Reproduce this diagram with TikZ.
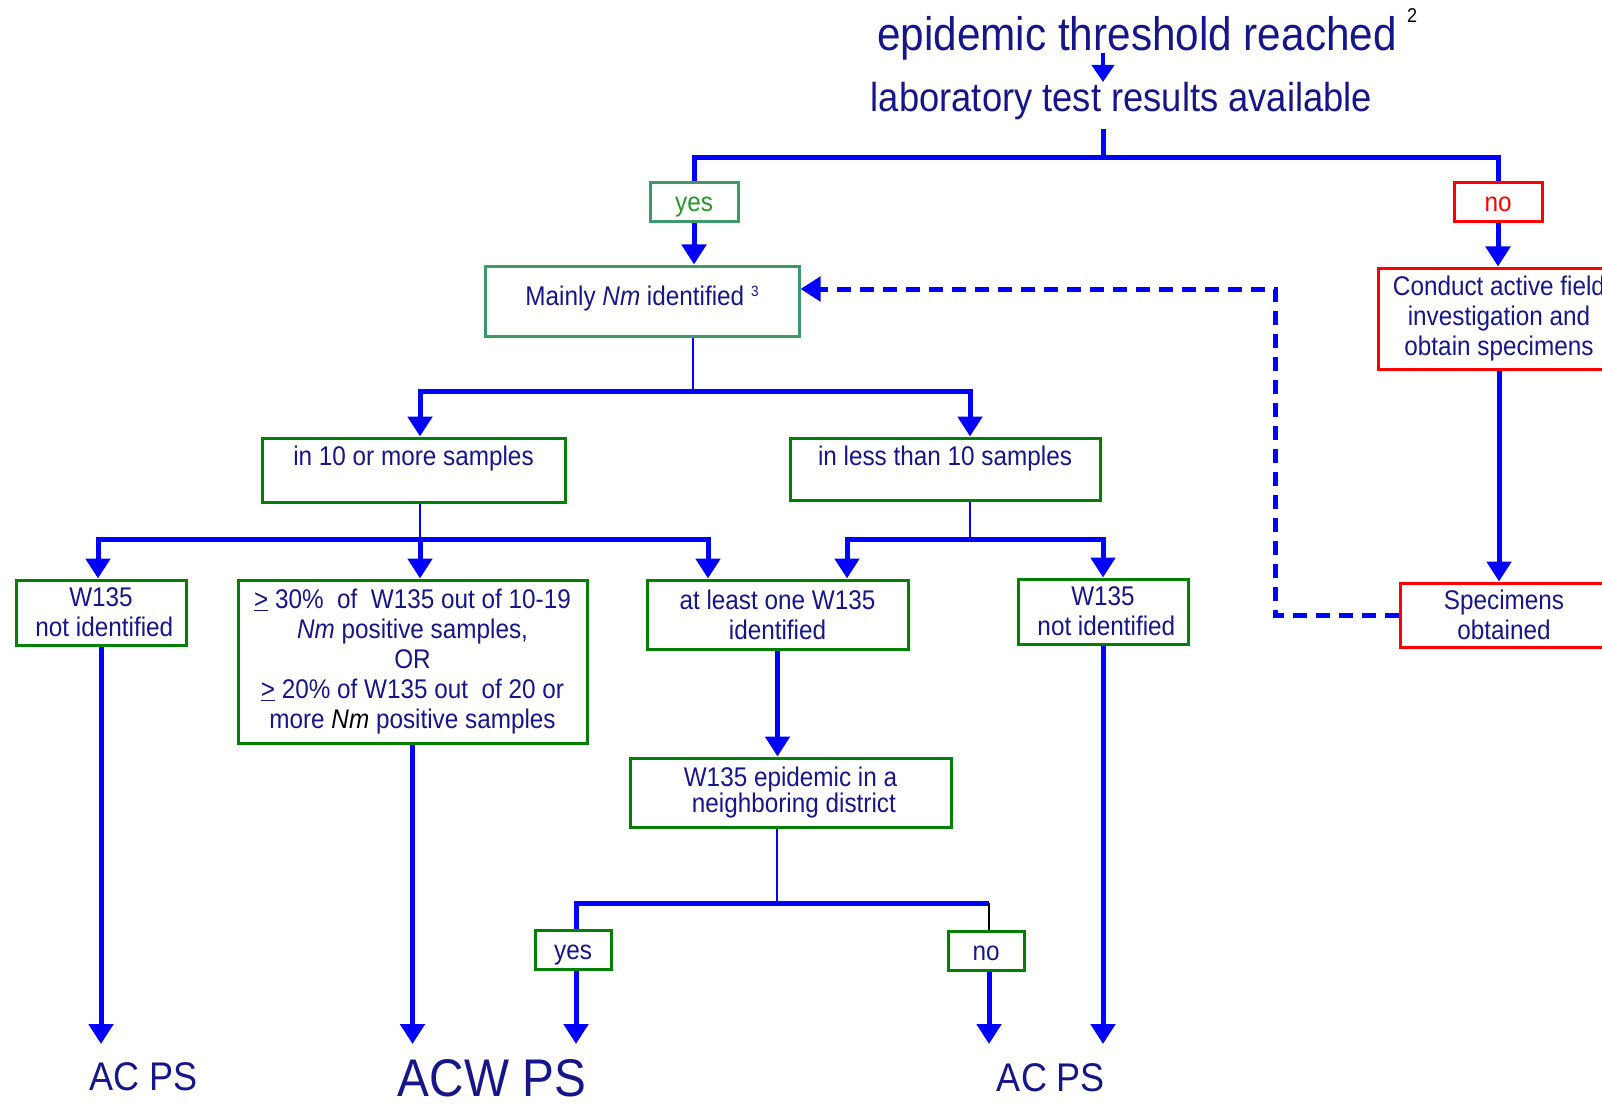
\documentclass[tikz,border=0pt]{standalone}
\usepackage{fontspec}
\setmainfont{Liberation Sans}[FakeStretch=0.9]
\usetikzlibrary{arrows.meta}
\definecolor{navyT}{RGB}{22,22,138}
\definecolor{lineblue}{RGB}{0,0,255}
\definecolor{boxgreen}{RGB}{0,128,0}
\definecolor{tealgreen}{RGB}{58,155,105}
\definecolor{yesgreen}{RGB}{40,150,40}
\definecolor{redc}{RGB}{255,0,0}
\newcommand{\myfs}[2]{\fontsize{#1}{#2}\selectfont}
\begin{document}
\begin{tikzpicture}[x=1pt,y=-1pt,
  box/.style={draw=boxgreen,line width=3pt,fill=white,text=navyT,inner sep=0pt,font=\myfs{27}{30}},
  mbox/.style={box,align=center},
  rbox/.style={mbox,draw=redc},
  ynbox/.style={box,text height=29pt,text depth=10pt},
  lbl/.style={text=navyT,inner sep=0pt,anchor=base},
  thk/.style={draw=lineblue,line width=5pt},
  thinl/.style={draw=lineblue,line width=2pt},
  arr/.style={thk,-{Triangle[width=24pt,length=20pt]}},
  dsh/.style={arr,dash pattern=on 14pt off 9pt},
]
\useasboundingbox (0,0) rectangle (1602,1107);
\fill[white] (0,0) rectangle (1602,1107);
\clip (0,0) rectangle (1602,1107);

% titles
\node[lbl,font=\myfs{47}{50}] (title) at (1137,51) {epidemic threshold reached};
\node[lbl,text=black,font=\myfs{20}{20}] (fn2) at (1412,23) {2};
\node[lbl,font=\myfs{40.4}{44}] (lab) at (1121.5,112) {laboratory test results available};

% boxes
\node[ynbox,draw=tealgreen,text=yesgreen,minimum width=88pt] (yesT) at (694,202.5) {yes};
\node[ynbox,draw=redc,text=redc,minimum width=88pt] (noT) at (1498,202) {no};
\node[box,draw=tealgreen,minimum width=314pt,text height=39pt,text depth=31pt] (mainly) at (642,301)
  {Mainly \textit{Nm} identified \raisebox{9pt}{\myfs{15}{15}3}};
\node[rbox,minimum width=242pt,minimum height=101pt] (conduct) at (1499,318.5)
  {Conduct active field\\ investigation and\\ obtain specimens};
\node[rbox,minimum width=208pt,minimum height=64pt] (spec) at (1504,615) {Specimens\\ obtained};
\node[box,minimum width=303pt,text height=27pt,text depth=37pt] (box10) at (413.5,470) {in 10 or more samples};
\node[box,minimum width=310pt,text height=27pt,text depth=35pt] (boxL10) at (945,469) {in less than 10 samples};
\node[mbox,minimum width=170pt,minimum height=65pt] (w135L) at (101,612.5) {W135\\ ~not identified};
\node[mbox,minimum width=349pt,minimum height=163pt] (big) at (412.5,661.5)
  {\underline{>}~30\%~ of~ W135 out of 10-19\\ \textit{Nm} positive samples,\\ OR\\
   \underline{>}~20\% of W135 out~ of 20 or\\ more {\color{black}\textit{Nm}} positive samples};
\node[mbox,minimum width=261pt,minimum height=69pt] (atleast) at (777.5,614.5) {at least one W135\\ identified};
\node[mbox,minimum width=170pt,minimum height=65pt] (w135R) at (1103,611.5) {W135\\ ~not identified};
\node[mbox,font=\myfs{27}{23},minimum width=321pt,minimum height=69pt] (epi) at (790.5,792.5)
  {W135 epidemic in a\\ ~neighboring district};
\node[ynbox,minimum width=76pt] (yesB) at (573,949.5) {yes};
\node[ynbox,minimum width=76pt] (noB) at (986,950.5) {no};

% outcome labels
\node[lbl,font=\myfs{40}{44}] (acps1) at (144,1090) {AC PS};
\node[lbl,font=\myfs{53}{58}] (acw) at (492,1096) {ACW PS};
\node[lbl,font=\myfs{40}{44}] (acps2) at (1051,1091) {AC PS};

% coordinates
\coordinate (tA) at (1103,53);
\coordinate (tB) at (1103,82);
\coordinate (labB) at (1103,129);
\coordinate (j0) at (1103,158);
\coordinate (dashT) at (1275,289);
\coordinate (m1) at (693,391);
\coordinate (m1L) at (420,391);
\coordinate (m1R) at (970,391);
\coordinate (b1) at (420,539);
\coordinate (b1L) at (98,539);
\coordinate (b1R) at (708,539);
\coordinate (c1) at (970,539);
\coordinate (c1L) at (847,539);
\coordinate (c1R) at (1103,539);
\coordinate (e1) at (777,903);
\coordinate (e1L) at (576,903);
\coordinate (e1R) at (989,903);
\coordinate (endY) at (0,1044);

% connectors
\draw[thk,line width=4pt,-{Triangle[width=22pt,length=17pt]}] (tA) -- (tB);
\draw[thk] (labB) -- (j0);
\draw[thk] (yesT.north) -- (yesT.north |- j0) -- (noT.north |- j0) -- (noT.north);
\draw[arr] (yesT.south) -- (yesT.south |- mainly.north);
\draw[arr] (noT.south) -- (noT.south |- conduct.north);
\draw[arr] (conduct.south) -- (conduct.south |- spec.north);
\draw[dsh] (spec.west) -| (dashT) -- (mainly.east |- dashT);

\draw[thinl] (m1 |- mainly.south) -- (m1);
\draw[arr] (m1) -- (m1L) -- (m1L |- box10.north);
\draw[arr] (m1) -- (m1R) -- (m1R |- boxL10.north);

\draw[thinl] (b1 |- box10.south) -- (b1);
\draw[arr] (b1) -- (b1L) -- (b1L |- w135L.north);
\draw[arr] (b1) -- (b1 |- big.north);
\draw[arr] (b1) -- (b1R) -- (b1R |- atleast.north);

\draw[thinl] (c1 |- boxL10.south) -- (c1);
\draw[arr] (c1) -- (c1L) -- (c1L |- atleast.north);
\draw[arr] (c1) -- (c1R) -- (c1R |- w135R.north);

\draw[arr] (w135L.south) -- (w135L.south |- endY);
\draw[arr] (big.south) -- (big.south |- endY);
\draw[arr] (atleast.south) -- (atleast.south |- epi.north);
\draw[arr] (w135R.south) -- (w135R.south |- endY);

\draw[thinl] (e1 |- epi.south) -- (e1);
\draw[thk] (e1R) -- (e1) -- (e1L) -- (e1L |- yesB.north);
\draw[black,line width=2pt] (e1R) -- (e1R |- noB.north);
\draw[arr] (e1L |- yesB.south) -- (e1L |- endY);
\draw[arr] (e1R |- noB.south) -- (e1R |- endY);
\end{tikzpicture}
\end{document}
